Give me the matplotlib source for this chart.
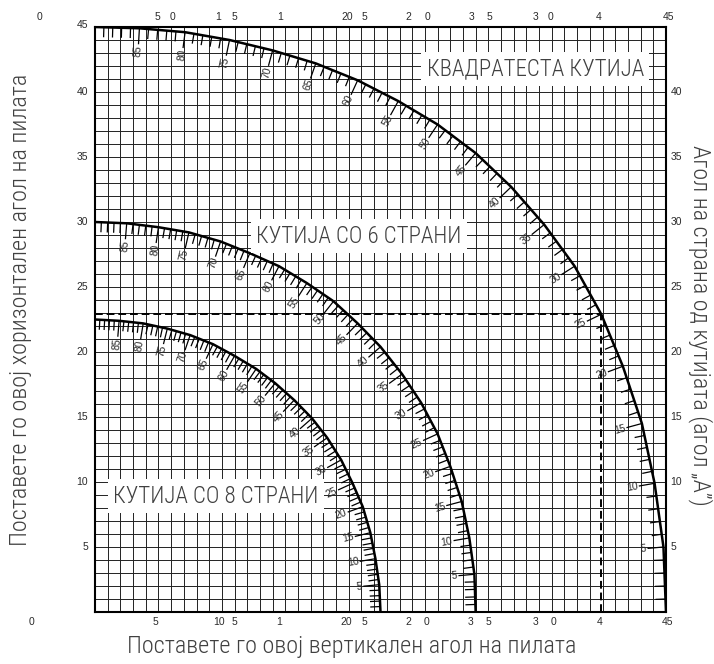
import numpy as np
import matplotlib
matplotlib.use("Agg")
import matplotlib.pyplot as plt
from matplotlib.collections import LineCollection
from matplotlib import font_manager

# side angle of the box ("A"), one reading every 5 degrees
side_angle = [0, 5, 10, 15, 20, 25, 30, 35, 40, 45, 50, 55, 60, 65, 70, 75, 80, 85, 90]

# vertical saw angle (x) and horizontal saw angle (y)
square_x = [45.0, 44.8, 44.1, 43.1, 41.6, 39.9, 37.8, 35.4, 32.8, 30.0,
            27.0, 23.9, 20.7, 17.4, 14.0, 10.6, 7.1, 3.5, 0.0]
square_y = [0.0, 5.0, 9.9, 14.5, 18.9, 22.9, 26.6, 29.8, 32.7, 35.3,
            37.5, 39.3, 40.9, 42.2, 43.2, 44.0, 44.6, 44.9, 45.0]
six_x = [30.0, 29.9, 29.5, 28.9, 28.0, 27.0, 25.7, 24.2, 22.5, 20.7,
         18.8, 16.7, 14.5, 12.2, 9.9, 7.4, 5.0, 2.5, 0.0]
six_y = [0.0, 2.9, 5.7, 8.5, 11.2, 13.7, 16.1, 18.3, 20.4, 22.2,
         23.9, 25.3, 26.6, 27.6, 28.5, 29.2, 29.6, 29.9, 30.0]
eight_x = [22.5, 22.4, 22.1, 21.7, 21.1, 20.3, 19.4, 18.3, 17.1, 15.7,
           14.2, 12.7, 11.0, 9.3, 7.5, 5.7, 3.8, 1.9, 0.0]
eight_y = [0.0, 2.1, 4.1, 6.1, 8.1, 9.9, 11.7, 13.4, 14.9, 16.3,
           17.6, 18.7, 19.7, 20.6, 21.3, 21.8, 22.2, 22.4, 22.5]

# example reading shown with dashed lines (square box, A = 25)
example_idx = side_angle.index(25)

# the scattered axis numbers as printed on the chart
top_labels = ["0", "5", "0", "1", "5", "1", "20", "5", "2", "0", "3", "5", "3", "0", "4", "45"]
top_pos = [-4.4, 4.9, 6.1, 9.7, 11.0, 14.6, 19.9, 21.2, 24.7, 26.2, 29.7, 31.1, 34.7, 35.9, 39.7, 45.2]
bottom_labels = ["0", "5", "10", "5", "1", "20", "5", "2", "0", "3", "5", "3", "0", "4", "45"]
bottom_pos = [-5.0, 4.8, 9.8, 11.0, 14.5, 19.8, 21.2, 24.7, 26.1, 29.6, 31.0, 34.7, 36.1, 39.8, 45.1]
side_ticks = [5, 10, 15, 20, 25, 30, 35, 40]

box_names = ["КВАДРАТЕСТА КУТИЈА", "КУТИЈА СО 6 СТРАНИ", "КУТИЈА СО 8 СТРАНИ"]
xlabel = "Поставете го овој вертикален агол на пилата"
ylabel = "Поставете го овој хоризонтален агол на пилата"
rlabel = "Агол на страна од кутијата (агол „А”)"

# pick a condensed face for the big captions
installed = {f.name for f in font_manager.fontManager.ttflist}
if 'Roboto Condensed' in installed:
    cap_font = dict(family=['Roboto Condensed', 'DejaVu Sans'], weight='light')
elif 'Liberation Sans Narrow' in installed:
    cap_font = dict(family=['Liberation Sans Narrow', 'DejaVu Sans'])
else:
    cap_font = dict(family=['DejaVu Sans'], stretch='condensed')
plain = ['Liberation Sans', 'DejaVu Sans']
txt_col = '#404040'
num_col = '#2a2a2a'

fig = plt.figure(figsize=(7.14, 6.64), dpi=100)
ax = fig.add_axes([95 / 714, 52 / 664, 571 / 714, 585 / 664])
ax.set_xlim(0, 45)
ax.set_ylim(0, 45)
ax.set_xticks(np.arange(0, 46))
ax.set_yticks(np.arange(0, 46))
ax.tick_params(length=0, labelbottom=False, labelleft=False)
ax.grid(True, color='#222222', lw=0.7)
ax.set_axisbelow(True)
for s in ax.spines.values():
    s.set_linewidth(1.5)

to_px = ax.transData
to_data = ax.transData.inverted()


# draw one curve with its degree scale (hatches inside the curve)
def draw_scale(xs, ys):
    pts = np.column_stack([xs, ys])
    fine = [pts[0]]
    for a, b in zip(pts[:-1], pts[1:]):
        for k in range(1, 6):
            fine.append(a + (b - a) * k / 5)
    fine = to_px.transform(np.array(fine))
    tang = np.gradient(fine, axis=0)
    tang /= np.linalg.norm(tang, axis=1)[:, None]
    inward = np.column_stack([-tang[:, 1], tang[:, 0]])
    segs = []
    for i, (p, n) in enumerate(zip(fine, inward)):
        length = 16 if i % 5 == 0 else 10
        segs.append(to_data.transform([p, p + n * length]))
    ax.add_collection(LineCollection(segs, colors='black', linewidths=0.9, zorder=3))
    ax.plot(xs, ys, color='black', lw=1.8, zorder=4, solid_capstyle='butt')
    for i in range(1, len(side_angle) - 1):
        j = i * 5
        p = fine[j] + inward[j] * 17
        ang = np.degrees(np.arctan2(-inward[j][1], -inward[j][0]))
        tx, ty = to_data.transform(p)
        ax.text(tx, ty, str(side_angle[i]), rotation=ang, rotation_mode='anchor',
                ha='right', va='center', fontsize=7.5, family=plain, color=num_col,
                zorder=4)


draw_scale(square_x, square_y)
draw_scale(six_x, six_y)
draw_scale(eight_x, eight_y)

ex, ey = square_x[example_idx], square_y[example_idx]
ax.plot([0, ex], [ey, ey], color='black', lw=1.4, ls=(0, (4, 2)), zorder=3)
ax.plot([ex, ex], [0, ey], color='black', lw=1.4, ls=(0, (4, 2)), zorder=3)

box_pos = [(34.7, 41.8), (20.8, 28.9), (9.55, 8.9)]
for name, (bx, by) in zip(box_names, box_pos):
    ax.text(bx, by, name, ha='center', va='center', fontsize=16.5, color=txt_col,
            zorder=6, bbox=dict(facecolor='white', edgecolor='none', pad=4), **cap_font)

# axis numbers
for lab, x in zip(top_labels, top_pos):
    ax.text(x, 45.8, lab, ha='center', va='center', fontsize=7.5, family=plain,
            color=num_col, clip_on=False)
for lab, x in zip(bottom_labels, bottom_pos):
    ax.text(x, -0.8, lab, ha='center', va='center', fontsize=7.5, family=plain,
            color=num_col, clip_on=False)
for v in side_ticks:
    ax.text(-0.55, v, str(v), ha='right', va='center', fontsize=7.5, family=plain,
            color=num_col, clip_on=False)
    ax.text(45.35, v, str(v), ha='left', va='center', fontsize=7.5, family=plain,
            color=num_col, clip_on=False)
ax.text(-0.55, 45.15, "45", ha='right', va='center', fontsize=7.5, family=plain,
        color=num_col, clip_on=False)

fig.text(352 / 714, 1 - 646 / 664, xlabel, ha='center', va='center', fontsize=17.5,
         color=txt_col, **cap_font)
fig.text(21 / 714, 1 - 310 / 664, ylabel, ha='center', va='center', rotation=90,
         fontsize=17.5, color=txt_col, **cap_font)
fig.text(700 / 714, 1 - 325 / 664, rlabel, ha='center', va='center', rotation=-90,
         fontsize=17.5, color=txt_col, **cap_font)

fig.savefig('out.png', dpi=100)
